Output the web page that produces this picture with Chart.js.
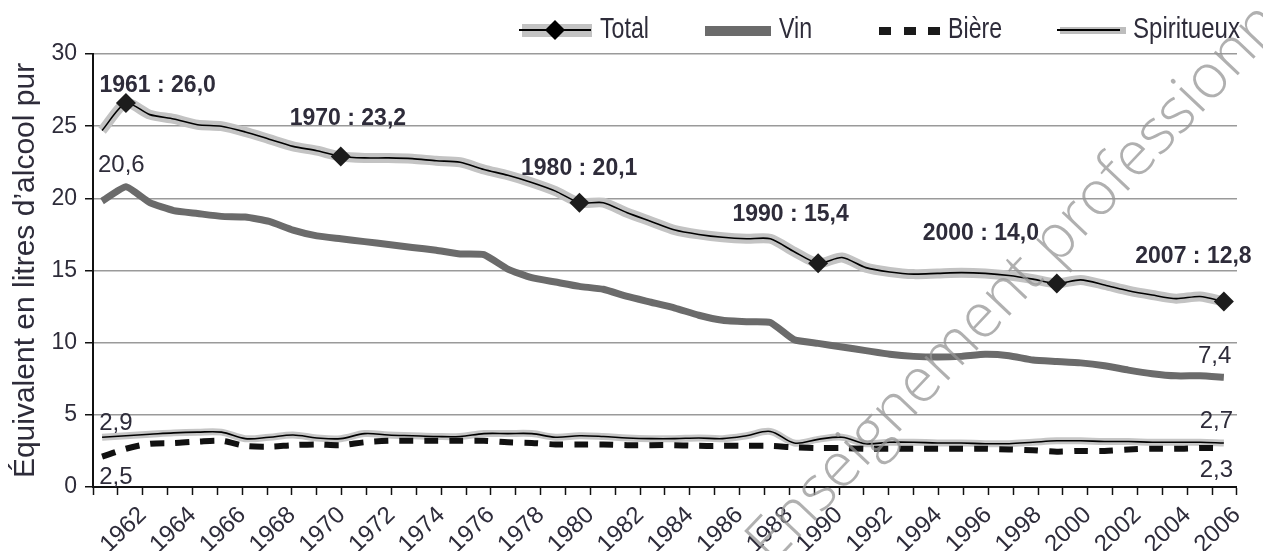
<!DOCTYPE html>
<html lang="fr">
<head>
<meta charset="UTF-8" />
<title>Consommation d'alcool</title>
<script src="https://cdn.jsdelivr.net/npm/chart.js"></script>
<style>
  html, body { margin: 0; padding: 0; background: #fff; }
  #wrap { width: 1263px; height: 551px; position: relative; }
</style>
</head>
<body>
<div id="wrap"><canvas id="alcoolChart"></canvas></div>

<script>
  // annees des series (lecture du graphique)
  const years = [
    1960, 1961, 1962, 1963, 1964, 1965, 1966, 1967, 1968, 1969,
    1970, 1971, 1972, 1973, 1974, 1975, 1976, 1977, 1978, 1979,
    1980, 1981, 1982, 1983, 1984, 1985, 1986, 1987, 1988, 1989,
    1990, 1991, 1992, 1993, 1994, 1995, 1996, 1997, 1998, 1999,
    2000, 2001, 2002, 2003, 2004, 2005, 2006, 2007
  ];
  const total = [
    24.7, 26.6, 25.8, 25.5, 25.1, 25.0, 24.6, 24.1, 23.6, 23.3,
    22.9, 22.8, 22.8, 22.75, 22.6, 22.5, 22.0, 21.6, 21.1, 20.5,
    19.7, 19.7, 19.0, 18.4, 17.8, 17.5, 17.3, 17.2, 17.2, 16.3,
    15.5, 15.9, 15.2, 14.9, 14.75, 14.8, 14.85, 14.8, 14.65, 14.4,
    14.1, 14.35, 14.0, 13.6, 13.3, 13.05, 13.2, 12.85
  ];
  const vin = [
    19.8, 20.8, 19.7, 19.15, 18.95, 18.75, 18.7, 18.4, 17.8, 17.4,
    17.2, 17.0, 16.8, 16.6, 16.4, 16.15, 16.1, 15.1, 14.5, 14.2,
    13.9, 13.7, 13.2, 12.8, 12.4, 11.9, 11.55, 11.45, 11.4, 10.2,
    9.95, 9.7, 9.45, 9.2, 9.05, 9.0, 9.05, 9.2, 9.1, 8.8,
    8.7, 8.6, 8.4, 8.1, 7.85, 7.7, 7.7, 7.6
  ];
  const biere = [
    2.1, 2.65, 3.0, 3.05, 3.15, 3.2, 2.85, 2.8, 2.9, 2.95,
    2.9, 3.1, 3.2, 3.2, 3.2, 3.2, 3.2, 3.1, 3.05, 2.95,
    2.95, 2.95, 2.9, 2.9, 2.9, 2.85, 2.85, 2.85, 2.85, 2.75,
    2.7, 2.7, 2.65, 2.65, 2.65, 2.65, 2.65, 2.65, 2.6, 2.55,
    2.45, 2.5, 2.5, 2.6, 2.65, 2.65, 2.7, 2.7
  ];
  const spiritueux = [
    3.45, 3.55, 3.65, 3.75, 3.8, 3.8, 3.35, 3.45, 3.6, 3.4,
    3.35, 3.7, 3.6, 3.55, 3.5, 3.5, 3.7, 3.7, 3.7, 3.45,
    3.55, 3.5, 3.4, 3.35, 3.35, 3.4, 3.35, 3.55, 3.85, 3.05,
    3.3, 3.45, 3.0, 3.1, 3.1, 3.05, 3.05, 3.0, 3.0, 3.1,
    3.2, 3.2, 3.15, 3.15, 3.1, 3.1, 3.1, 3.05
  ];
  // annees marquees d'un losange sur la courbe Total
  const markYears = [1961, 1970, 1980, 1990, 2000, 2007];
  const tickYears = [
    1962, 1964, 1966, 1968, 1970, 1972, 1974, 1976, 1978, 1980, 1982, 1984,
    1986, 1988, 1990, 1992, 1994, 1996, 1998, 2000, 2002, 2004, 2006
  ];
  const yTicks = [0, 5, 10, 15, 20, 25, 30];

  const pts = arr => years.map((yr, i) => ({ x: yr, y: arr[i] }));

  const TXT = '#2e2c3a';
  const SANS = '"Liberation Sans", Arial, sans-serif';

  // etiquettes de valeurs, placees en coordonnees des axes (annee, litres)
  const callouts = [
    { t: '1961 : 26,0', x: 1962.6, y: 27.35, bold: true },
    { t: '1970 : 23,2', x: 1970.25, y: 25.08, bold: true },
    { t: '1980 : 20,1', x: 1979.55, y: 21.6, bold: true },
    { t: '1990 : 15,4', x: 1988.05, y: 18.43, bold: true },
    { t: '2000 : 14,0', x: 1995.7, y: 17.11, bold: true },
    { t: '2007 : 12,8', x: 2004.25, y: 15.52, bold: true },
    { t: '20,6', x: 1960.2, y: 21.83 },
    { t: '7,4', x: 2004.43, y: 8.6 },
    { t: '2,9', x: 1960.25, y: 3.95 },
    { t: '2,5', x: 1960.25, y: 0.2 },
    { t: '2,7', x: 2004.5, y: 4.09 },
    { t: '2,3', x: 2004.5, y: 0.69 }
  ];

  // texte etroit : police normale comprimee horizontalement
  function narrowText(ctx, txt, x, y, sx) {
    ctx.save();
    ctx.translate(x, y);
    ctx.scale(sx, 1);
    ctx.fillText(txt, 0, 0);
    ctx.restore();
  }

  const decor = {
    id: 'decor',
    afterDatasetsDraw(chart) {
      const ctx = chart.ctx;
      const xs = chart.scales.x, ys = chart.scales.y;
      ctx.save();
      ctx.fillStyle = TXT;
      ctx.textBaseline = 'alphabetic';
      callouts.forEach(c => {
        const px = xs.getPixelForValue(c.x), py = ys.getPixelForValue(c.y);
        if (c.bold) {
          ctx.font = 'bold 23px ' + SANS;
          ctx.textAlign = 'center';
        } else {
          ctx.font = '24px ' + SANS;
          ctx.textAlign = 'left';
        }
        ctx.fillText(c.t, px, py);
      });

      // legende
      ctx.textAlign = 'left';
      ctx.font = '29px ' + SANS;
      // Total
      ctx.fillStyle = '#c3c3c3';
      ctx.fillRect(522, 24, 70, 13);
      ctx.strokeStyle = '#000';
      ctx.lineWidth = 2;
      ctx.beginPath(); ctx.moveTo(519, 30); ctx.lineTo(591, 30); ctx.stroke();
      ctx.fillStyle = '#000';
      ctx.beginPath();
      ctx.moveTo(555, 20); ctx.lineTo(565, 30); ctx.lineTo(555, 40); ctx.lineTo(545, 30);
      ctx.closePath(); ctx.fill();
      ctx.fillStyle = TXT;
      narrowText(ctx, 'Total', 600, 38, 0.8);
      // Vin
      ctx.fillStyle = '#6b6b6b';
      ctx.fillRect(705, 26, 66, 10);
      ctx.fillStyle = TXT;
      narrowText(ctx, 'Vin', 779, 38, 0.8);
      // Biere
      ctx.fillStyle = '#1a1a1a';
      [879, 904, 928].forEach(x0 => ctx.fillRect(x0, 27, 12, 8));
      ctx.fillStyle = TXT;
      narrowText(ctx, 'Bière', 948, 38, 0.8);
      // Spiritueux
      ctx.fillStyle = '#bdbdbd';
      ctx.fillRect(1060, 27, 66, 7);
      ctx.strokeStyle = '#000';
      ctx.lineWidth = 2;
      ctx.beginPath(); ctx.moveTo(1057, 30); ctx.lineTo(1120, 30); ctx.stroke();
      ctx.fillStyle = TXT;
      narrowText(ctx, 'Spiritueux', 1133, 38, 0.83);
      ctx.restore();
    },
    afterDraw(chart) {
      // filigrane
      const ctx = chart.ctx;
      ctx.save();
      ctx.translate(772, 566);
      ctx.rotate(-46.5 * Math.PI / 180);
      ctx.font = '300 62px "Open Sans", "DejaVu Sans", sans-serif';
      ctx.fillStyle = 'rgba(150,150,150,0.75)';
      ctx.textAlign = 'left';
      ctx.textBaseline = 'alphabetic';
      ctx.fillText('Enseignement professionnel', 0, 0);
      ctx.restore();
    }
  };

  new Chart(document.getElementById('alcoolChart'), {
    type: 'line',
    data: {
      datasets: [
        {
          label: 'Total', data: pts(total), xAxisID: 'xd', order: 0,
          borderColor: '#000', borderWidth: 1.6, tension: 0.25,
          pointStyle: 'rectRot',
          pointRadius: c => markYears.includes(years[c.dataIndex]) ? 10 : 0,
          pointBackgroundColor: '#1c1c1c', pointBorderColor: '#1c1c1c', pointBorderWidth: 0
        },
        {
          label: 'Total (fond)', data: pts(total), xAxisID: 'xd', order: 1,
          borderColor: '#c3c3c3', borderWidth: 10, tension: 0.25, pointRadius: 0
        },
        {
          label: 'Spiritueux', data: pts(spiritueux), xAxisID: 'xd', order: 2,
          borderColor: '#000', borderWidth: 1.6, tension: 0.35, pointRadius: 0
        },
        {
          label: 'Bière', data: pts(biere), xAxisID: 'xd', order: 3,
          borderColor: '#111', borderWidth: 6, borderDash: [14, 11], tension: 0.3, pointRadius: 0
        },
        {
          label: 'Spiritueux (fond)', data: pts(spiritueux), xAxisID: 'xd', order: 4,
          borderColor: '#c6c6c6', borderWidth: 7, tension: 0.35, pointRadius: 0
        },
        {
          label: 'Vin', data: pts(vin), xAxisID: 'xd', order: 5,
          borderColor: '#6b6b6b', borderWidth: 7, tension: 0.15, pointRadius: 0,
          borderJoinStyle: 'round'
        }
      ]
    },
    options: {
      responsive: true,
      maintainAspectRatio: false,
      animation: false,
      layout: { padding: { left: 0, right: 24, top: 54, bottom: 0 } },
      plugins: { legend: { display: false }, tooltip: { enabled: false } },
      scales: {
        xd: {
          type: 'linear', display: false, min: 1959.62, max: 2007.55
        },
        x: {
          type: 'linear', position: 'bottom', min: 1960, max: 2006,
          afterFit: s => { s.height = 64; },
          border: { color: '#111', width: 2 },
          grid: { drawOnChartArea: false, drawTicks: true, tickLength: 8, tickColor: '#111', tickWidth: 1.5 },
          ticks: {
            stepSize: 1, autoSkip: false, minRotation: 44, maxRotation: 44, padding: 6,
            color: TXT, font: { family: SANS, size: 24 },
            callback: v => tickYears.includes(v) ? String(v) : ''
          }
        },
        y: {
          min: 0, max: 30,
          afterFit: s => { s.width = 93; },
          afterBuildTicks: s => { s.ticks = yTicks.map(v => ({ value: v })); },
          border: { color: '#111', width: 2 },
          grid: { color: '#9a9a9a', lineWidth: 1.5, tickLength: 8, tickColor: '#111' },
          ticks: { color: TXT, padding: 8, font: { family: SANS, size: 23 } },
          title: {
            display: true, text: 'Équivalent en litres d\u2019alcool pur',
            color: TXT, font: { family: SANS, size: 30 }, padding: { top: 8, bottom: 0 }
          }
        }
      }
    },
    plugins: [decor]
  });
</script>
</body>
</html>
